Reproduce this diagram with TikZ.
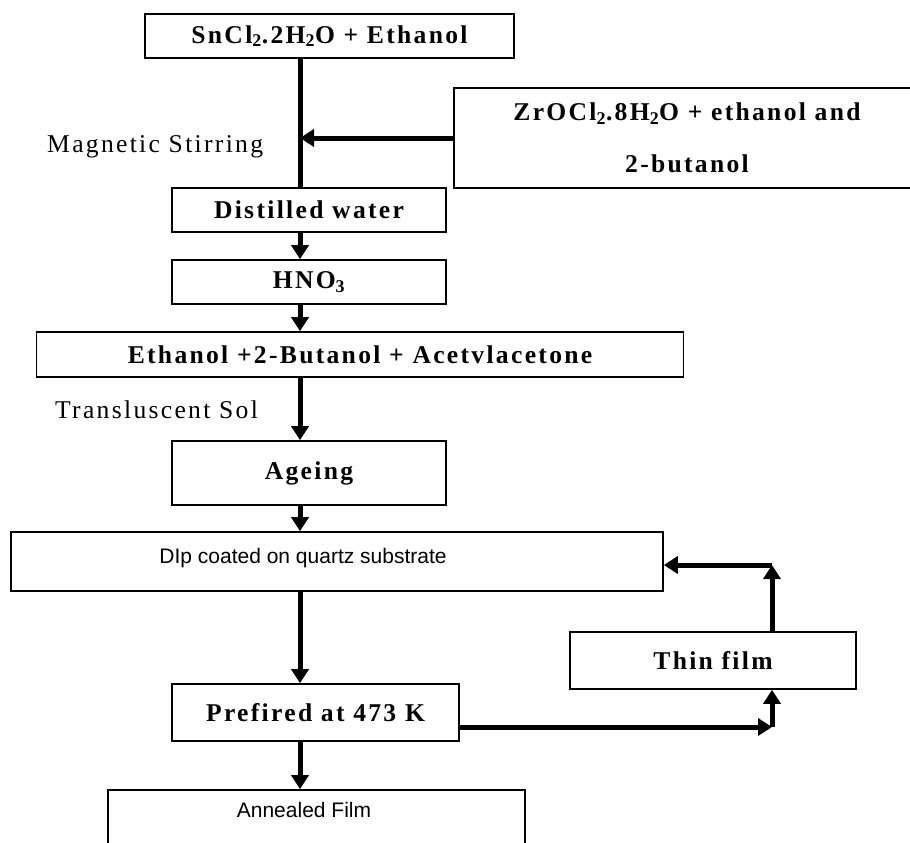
\documentclass[tikz,border=0pt]{standalone}
\usepackage{fontspec}
\newfontfamily\boxfont{Liberation Serif}[LetterSpace=9]
\newfontfamily\filmfont{Liberation Sans}
\usepackage{tikz}
\usetikzlibrary{positioning,arrows.meta}

\begin{document}
\begin{tikzpicture}[x=1pt, y=-1pt,
			stepnode/.style={rectangle, draw=black, line width=1.6pt, inner sep=0pt, font=\boxfont\bfseries\fontsize{25.6}{30}\selectfont},
			sidetext/.style={anchor=west, inner sep=0pt, font=\boxfont\fontsize{25.6}{30}\selectfont},
			plaintext/.style={inner sep=0pt, font=\filmfont\fontsize{21}{25}\selectfont},
			flow/.style={line width=5pt, -{Triangle[length=14pt,width=17pt]}},
		]
		
			\path[use as bounding box, fill=white] (0,0) rectangle (910,843);
			\clip (0,0) rectangle (910,843);
		
			%Nodes
			\node[stepnode, minimum width=369, minimum height=44]	(sncl)		at (329.5,36)	{SnCl\textsubscript{2}.2H\textsubscript{2}O + Ethanol};
			\node[stepnode, minimum width=466, minimum height=100, align=center, font=\boxfont\bfseries\fontsize{25.6}{52}\selectfont]	(zro)	at (687,138)	{ZrOCl\textsubscript{2}.8H\textsubscript{2}O + ethanol and\\2-butanol};
			\node[stepnode, minimum width=274, minimum height=44]	(water)		at (309,210)	{Distilled water};
			\node[stepnode, minimum width=274, minimum height=44]	(hno)		at (309,282)	{HNO\textsubscript{3}};
			\node[stepnode, minimum width=647, minimum height=45]	(ethanol)	at (360,354.5)	{Ethanol +2-Butanol + Acetvlacetone};
			\node[stepnode, minimum width=274, minimum height=64]	(ageing)	at (309,473)	{Ageing};
			\node[stepnode, minimum width=652, minimum height=59]	(dip)		at (337,561.5)	{};
			\node[stepnode, minimum width=287, minimum height=57]	(prefired)	at (315.5,712.5)	{Prefired at 473 K};
			\node[stepnode, minimum width=286, minimum height=57]	(thin)		at (713,660.5)	{Thin film};
			\node[stepnode, minimum width=417, minimum height=80]	(annealed)	at (316.5,830)	{};
		
			%Texts
			\node[plaintext]	(diptext)		at (303,558)	{DIp coated on quartz substrate};
			\node[plaintext]	(annealtext)	at (304,810)	{Annealed Film};
			\node[sidetext]		(stirlabel)		at (47,147)		{Magnetic Stirring};
			\node[sidetext]		(sollabel)		at (55,410)		{Transluscent Sol};
		
			%Coordinates
			\coordinate (axis)		at (300,0);
			\coordinate (loopin)	at (772,727);
			\coordinate (loopout)	at (772,565);
		
			%Lines
			\draw[line width=5pt]	(sncl.south -| axis) -- (water.north -| axis);
			\draw[flow]	(zro.west) -- (zro.west -| axis);
			\draw[flow]	(water.south -| axis) -- (hno.north -| axis);
			\draw[flow]	(hno.south -| axis) -- (ethanol.north -| axis);
			\draw[flow]	(ethanol.south -| axis) -- (ageing.north -| axis);
			\draw[flow]	(ageing.south -| axis) -- (dip.north -| axis);
			\draw[flow]	(dip.south -| axis) -- (prefired.north -| axis);
			\draw[flow]	(prefired.south -| axis) -- (annealed.north -| axis);
			\draw[flow]	(prefired.east |- loopin) -- (loopin);
			\draw[flow]	(loopin) -- (thin.south -| loopin);
			\draw[flow]	(thin.north -| loopout) -- (loopout);
			\draw[flow]	(loopout) -- (dip.east |- loopout);
		
		\end{tikzpicture}
\end{document}
